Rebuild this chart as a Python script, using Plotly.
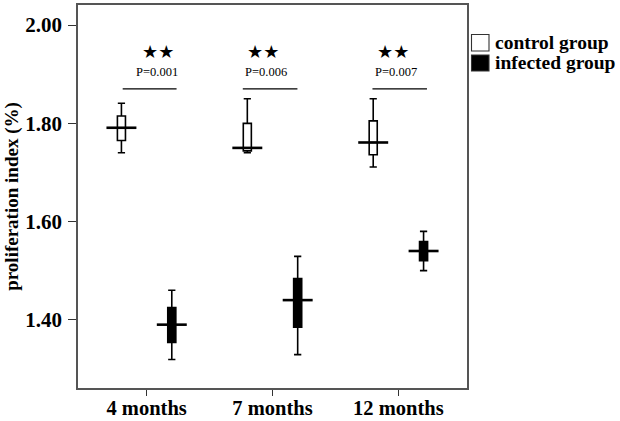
import plotly.graph_objects as go

# ---------------- data ----------------
categories = ["4 months", "7 months", "12 months"]
cat_pos = [0, 1, 2]

# control group (white boxes): whisker low, box low, mean, box high, whisker high
control_low = [1.740, 1.740, 1.711]
control_q1 = [1.765, 1.744, 1.736]
control_mean = [1.791, 1.750, 1.761]
control_q3 = [1.815, 1.800, 1.805]
control_high = [1.841, 1.850, 1.850]

# infected group (black boxes)
infected_low = [1.319, 1.329, 1.500]
infected_q1 = [1.354, 1.385, 1.520]
infected_mean = [1.390, 1.440, 1.540]
infected_q3 = [1.425, 1.484, 1.559]
infected_high = [1.460, 1.529, 1.580]

group_names = ["control group", "infected group"]
group_fills = ["white", "black"]
p_labels = ["P=0.001", "P=0.006", "P=0.007"]
sig_labels = ["★★", "★★", "★★"]
y_tick_vals = [1.40, 1.60, 1.80, 2.00]
y_tick_text = ["1.40", "1.60", "1.80", "2.00"]

# ---------------- styling / layout constants ----------------
W, H = 620, 421
ML, MR, MT, MB = 78, 153, 5, 33
PW, PH = W - ML - MR, H - MT - MB

OFFSET = 0.2          # group offset from category centre
BOX_W = 0.064         # box width (category units)
MEAN_HALF = 0.119     # half-length of the mean bar
SIG_Y = 1.870
STAR_Y = 1.947
P_Y = 1.904
sig_x0 = [-0.19, -0.236, -0.206]
sig_x1 = [0.238, 0.198, 0.227]
star_dx = [0.09, -0.077, -0.04]
p_dx = [0.082, -0.053, -0.016]

SERIF = "Liberation Serif, Times New Roman, serif"

fig = go.Figure()

def add_group(offset, q1, med, q3, lo, hi, fill, name):
    xs = [p + offset for p in cat_pos]
    fig.add_trace(go.Box(
        x=xs, q1=q1, median=med, q3=q3, lowerfence=lo, upperfence=hi,
        width=BOX_W, fillcolor=fill, line=dict(color="black", width=1.6),
        whiskerwidth=0.9, boxpoints=False, showlegend=False, hoverinfo="skip",
        name=name,
    ))
    mx, my = [], []
    for x, m in zip(xs, med):
        mx += [x - MEAN_HALF, x + MEAN_HALF, None]
        my += [m, m, None]
    fig.add_trace(go.Scatter(x=mx, y=my, mode="lines",
                             line=dict(color="black", width=2.6),
                             showlegend=False, hoverinfo="skip"))

add_group(-OFFSET, control_q1, control_mean, control_q3, control_low, control_high,
          group_fills[0], group_names[0])
add_group(OFFSET, infected_q1, infected_mean, infected_q3, infected_low, infected_high,
          group_fills[1], group_names[1])

# significance bars
sx, sy = [], []
for p, a, b in zip(cat_pos, sig_x0, sig_x1):
    sx += [p + a, p + b, None]
    sy += [SIG_Y, SIG_Y, None]
fig.add_trace(go.Scatter(x=sx, y=sy, mode="lines",
                         line=dict(color="black", width=1.3),
                         showlegend=False, hoverinfo="skip"))

annotations = []
for p, s, dx in zip(cat_pos, sig_labels, star_dx):
    annotations.append(dict(x=p + dx, y=STAR_Y, text=s, showarrow=False,
                            font=dict(family="DejaVu Sans", size=18, color="black")))
for p, t, dx in zip(cat_pos, p_labels, p_dx):
    annotations.append(dict(x=p + dx, y=P_Y, text=t, showarrow=False,
                            font=dict(family=SERIF, size=12.5, color="black")))

# legend key (drawn in paper coordinates, outside the plot area)
def px2x(px):
    return (px - ML) / PW

def py2y(py):
    return 1 - (py - MT) / PH

shapes = []
leg_rows = [(34.5, 51.0), (55.0, 71.0)]
for (top, bot), name, fill in zip(leg_rows, group_names, group_fills):
    shapes.append(dict(type="rect", xref="paper", yref="paper",
                       x0=px2x(471.5), x1=px2x(489), y0=py2y(bot), y1=py2y(top),
                       fillcolor=fill, line=dict(color="#333", width=1.1)))
    annotations.append(dict(xref="paper", yref="paper", x=px2x(492.5),
                            y=py2y((top + bot) / 2), xanchor="left", yanchor="middle",
                            text=name, showarrow=False,
                            font=dict(family=SERIF, size=19.5, color="black", weight="bold")))

fig.update_layout(
    width=W, height=H,
    margin=dict(l=ML, r=MR, t=MT, b=MB),
    paper_bgcolor="white", plot_bgcolor="white",
    font=dict(family=SERIF, color="black"),
    annotations=annotations, shapes=shapes,
    showlegend=False,
    xaxis=dict(range=[-0.545, 2.545], tickvals=cat_pos, ticktext=categories,
               showline=True, mirror=True, linecolor="#555", linewidth=1.5,
               ticks="outside", ticklen=6, tickcolor="#333", tickwidth=1.3,
               ticklabelstandoff=-5,
               showgrid=False, zeroline=False, automargin=False,
               tickfont=dict(family=SERIF, size=20.5, color="black", weight="bold")),
    yaxis=dict(range=[1.261, 2.041], tickvals=y_tick_vals, ticktext=y_tick_text,
               showline=True, mirror=True, linecolor="#555", linewidth=1.5,
               ticks="outside", ticklen=8, tickcolor="#333", tickwidth=1.3,
               ticklabelstandoff=2,
               showgrid=False, zeroline=False, automargin=False,
               tickfont=dict(family=SERIF, size=21, color="black", weight="bold"),
               title=dict(text="proliferation index (%)", standoff=2,
                          font=dict(family=SERIF, size=19, color="black", weight="bold"))),
)

# remove the default page margin so the 620x421 figure fills the window exactly
fig.write_html("out.html",
               config={"displayModeBar": False},
               post_script="document.body.style.margin='0';document.body.style.overflow='hidden';")
